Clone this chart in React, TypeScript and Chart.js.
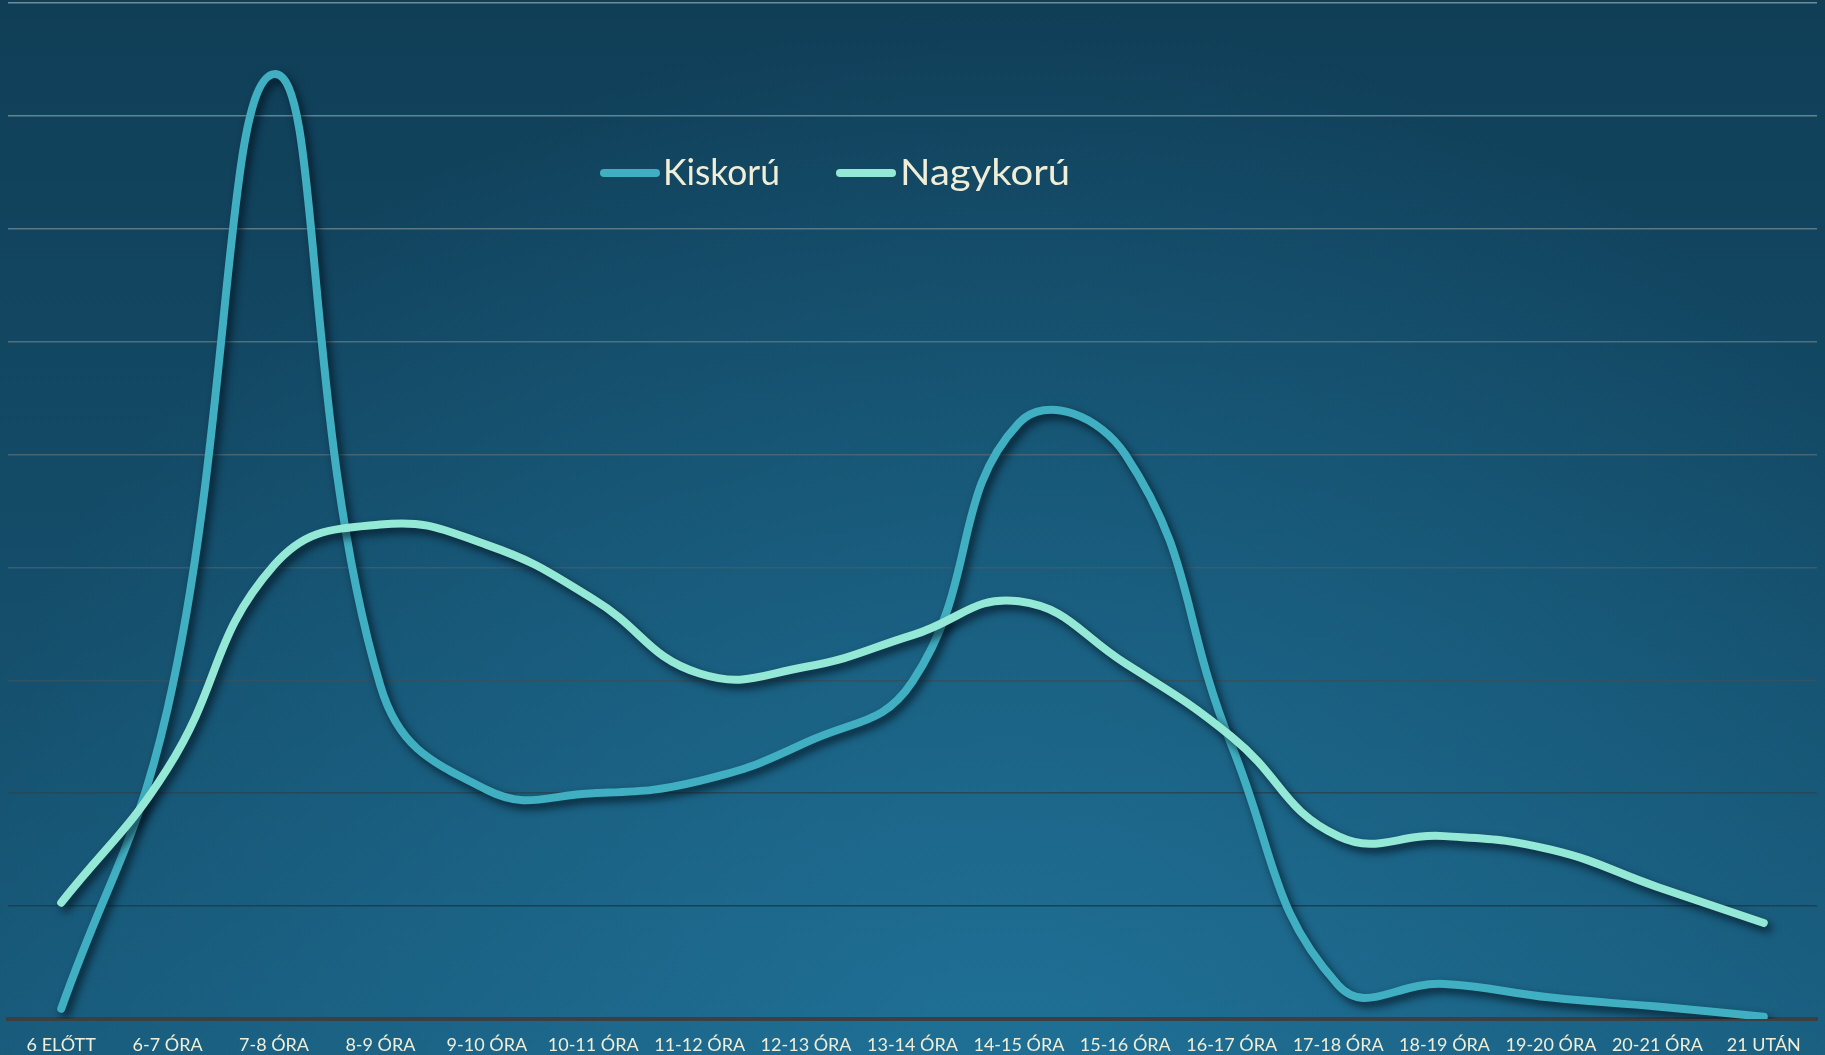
import React, { useEffect, useRef } from "react";
import { Chart, registerables } from "chart.js";

Chart.register(...registerables);

const categories = [
  "6 ELŐTT", "6-7 ÓRA", "7-8 ÓRA", "8-9 ÓRA", "9-10 ÓRA", "10-11 ÓRA", "11-12 ÓRA",
  "12-13 ÓRA", "13-14 ÓRA", "14-15 ÓRA", "15-16 ÓRA", "16-17 ÓRA", "17-18 ÓRA",
  "18-19 ÓRA", "19-20 ÓRA", "20-21 ÓRA", "21 UTÁN",
];
const kiskoru = [0.09, 2.75, 8.37, 2.95, 2.03, 2.0, 2.11, 2.45, 2.99, 5.28, 5.0, 2.42, 0.3, 0.31, 0.19, 0.11, 0.02];
const nagykoru = [1.03, 2.22, 4.02, 4.38, 4.2, 3.72, 3.06, 3.12, 3.4, 3.7, 3.15, 2.5, 1.62, 1.62, 1.5, 1.17, 0.85];
const seriesNames = ["Kiskorú", "Nagykorú"];
const seriesColors = ["#40AFC1", "#94E8D6"];
const yMax = 9;

const FONT = "Lato, 'Open Sans', sans-serif";
const TEXT = "#EEEED9";

const backgroundPlugin = {
  id: "bg",
  beforeDraw(chart: any) {
    const { ctx, width, height } = chart;
    ctx.save();
    const lin = ctx.createLinearGradient(0, 0, 0, height);
    lin.addColorStop(0, "#103E57");
    lin.addColorStop(0.45, "#134a66");
    lin.addColorStop(1, "#185a7a");
    ctx.fillStyle = lin;
    ctx.fillRect(0, 0, width, height);
    const rad = ctx.createRadialGradient(width * 0.55, height * 1.05, 0, width * 0.55, height * 1.05, width * 0.6);
    rad.addColorStop(0, "rgba(34,120,160,0.75)");
    rad.addColorStop(1, "rgba(34,120,160,0)");
    ctx.fillStyle = rad;
    ctx.fillRect(0, 0, width, height);
    ctx.restore();
  },
};

const shadowPlugin = {
  id: "lineShadow",
  beforeDatasetDraw(chart: any) {
    const ctx = chart.ctx;
    ctx.save();
    ctx.shadowColor = "rgba(0,15,25,0.75)";
    ctx.shadowBlur = 8;
    ctx.shadowOffsetX = 4;
    ctx.shadowOffsetY = 5;
  },
  afterDatasetDraw(chart: any) {
    chart.ctx.restore();
  },
};

const legendPlugin = {
  id: "customLegend",
  afterDraw(chart: any) {
    const ctx = chart.ctx;
    const items = [
      { x: 604, tx: 663, tw: 117 },
      { x: 840, tx: 900, tw: 170 },
    ];
    ctx.save();
    items.forEach((it, i) => {
      ctx.strokeStyle = seriesColors[i];
      ctx.lineWidth = 8;
      ctx.lineCap = "round";
      ctx.beginPath();
      ctx.moveTo(it.x, 173);
      ctx.lineTo(it.x + 52, 173);
      ctx.stroke();
      ctx.fillStyle = TEXT;
      ctx.font = `37px ${FONT}`;
      ctx.textBaseline = "alphabetic";
      ctx.textAlign = "left";
      const w = ctx.measureText(seriesNames[i]).width;
      ctx.save();
      ctx.translate(it.tx, 185);
      ctx.scale(it.tw / w, 1);
      ctx.fillText(seriesNames[i], 0, 0);
      ctx.restore();
    });
    ctx.restore();
  },
};

function gridColor(v: number) {
  const t = v / yMax;
  const r = Math.round(15 + (110 - 15) * t);
  const g = Math.round(55 + (140 - 55) * t);
  const b = Math.round(72 + (152 - 72) * t);
  return `rgb(${r},${g},${b})`;
}

export default function App() {
  const ref = useRef<HTMLCanvasElement | null>(null);
  useEffect(() => {
    document.body.style.margin = "0";
    const canvas = ref.current!;
    const chart = new Chart(canvas, {
      type: "line",
      data: {
        labels: categories,
        datasets: [
          {
            label: seriesNames[0],
            data: kiskoru,
            borderColor: seriesColors[0],
            borderWidth: 8,
            pointRadius: 0,
            tension: 0.45,
            borderCapStyle: "round",
            borderJoinStyle: "round",
            fill: false,
            order: 1,
          },
          {
            label: seriesNames[1],
            data: nagykoru,
            borderColor: seriesColors[1],
            borderWidth: 8,
            pointRadius: 0,
            tension: 0.45,
            borderCapStyle: "round",
            borderJoinStyle: "round",
            fill: false,
            order: 0,
          },
        ],
      },
      options: {
        animation: false,
        responsive: false,
        maintainAspectRatio: false,
        layout: { padding: { left: 8, right: 8, top: 3, bottom: 0 } },
        plugins: { legend: { display: false }, tooltip: { enabled: false } },
        scales: {
          x: {
            offset: true,
            grid: { display: false, drawTicks: false },
            border: { display: true, color: "#3d3f41", width: 4 },
            ticks: {
              color: TEXT,
              font: { family: FONT, size: 18 },
              padding: 15,
              maxRotation: 0,
              autoSkip: false,
            },
            afterFit: (scale: any) => {
              scale.height = 36;
            },
          },
          y: {
            min: 0,
            max: yMax,
            ticks: { display: false, stepSize: 1 },
            border: { display: false },
            grid: {
              drawTicks: false,
              lineWidth: 1.5,
              color: (c: any) => gridColor(c.tick ? c.tick.value : 0),
            },
          },
        },
      },
      plugins: [backgroundPlugin, shadowPlugin, legendPlugin],
    } as any);
    return () => chart.destroy();
  }, []);
  return (
    <div style={{ width: 1825, height: 1055, position: "relative" }}>
      <canvas ref={ref} width={1825} height={1055} style={{ display: "block" }} />
    </div>
  );
}
